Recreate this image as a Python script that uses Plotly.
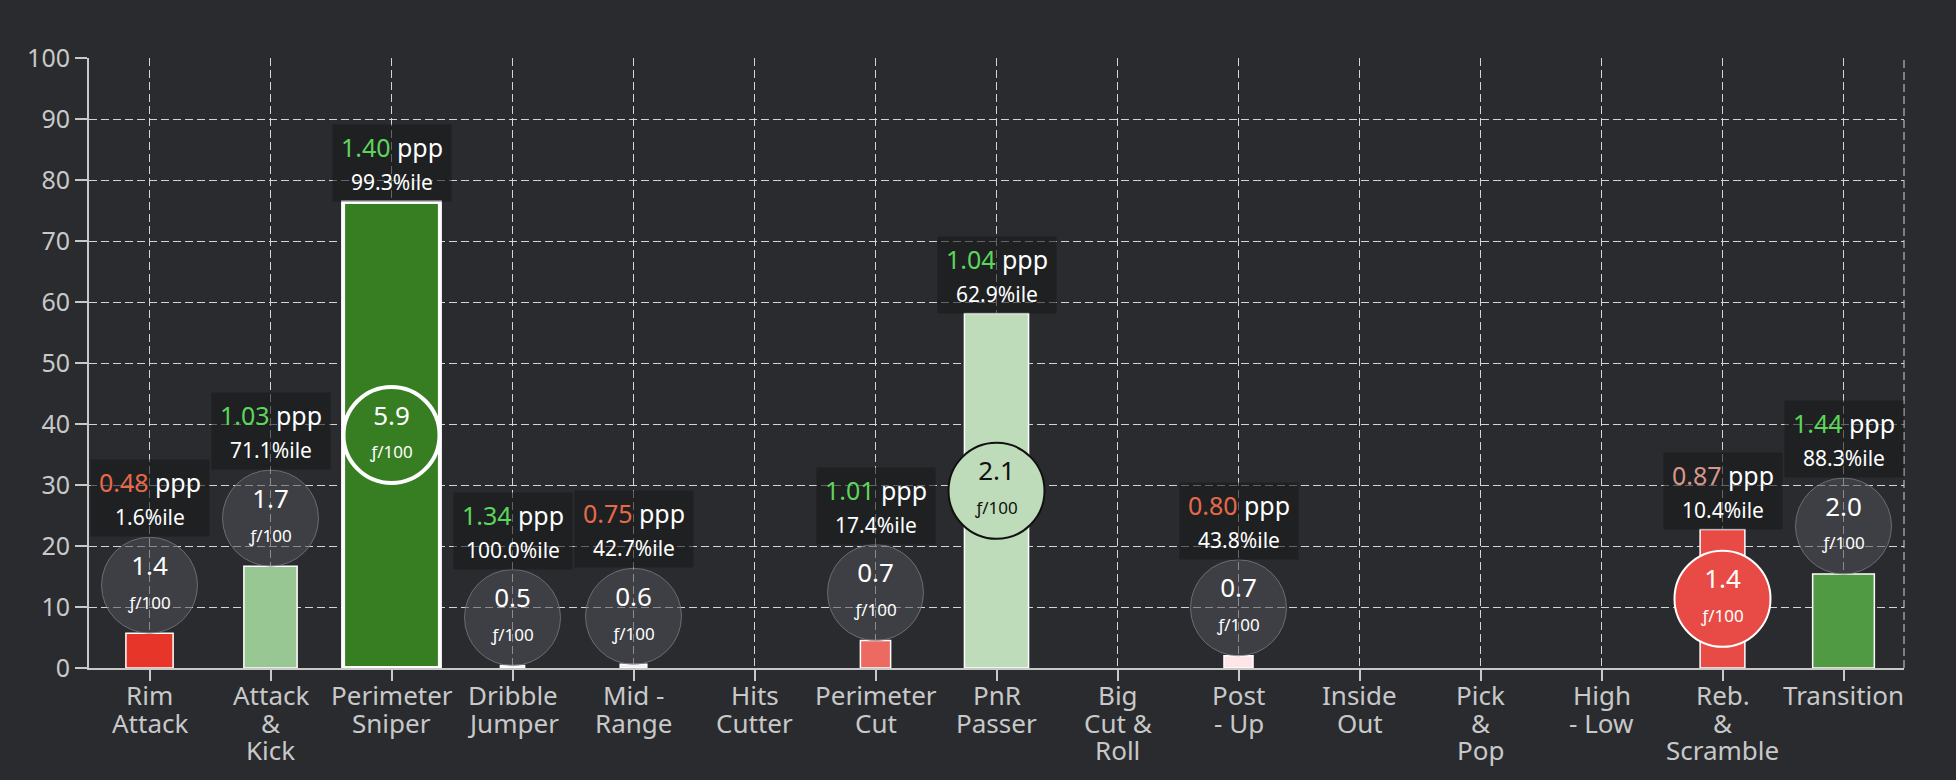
import plotly.graph_objects as go

# play types (tick labels) and values
play_types = [
    "Rim<br>Attack", "Attack<br>&<br>Kick", "Perimeter<br>Sniper", "Dribble<br>Jumper",
    "Mid -<br>Range", "Hits<br>Cutter", "Perimeter<br>Cut", "PnR<br>Passer",
    "Big<br>Cut &<br>Roll", "Post<br>- Up", "Inside<br>Out", "Pick<br>&<br>Pop",
    "High<br>- Low", "Reb.<br>&<br>Scramble", "Transition",
]
usage_pct = [5.7, 16.7, 76.4, 0.4, 0.6, None, 4.5, 58.1, None, 2.0, None, None, None, 22.7, 15.4]
freq_100 = [1.4, 1.7, 5.9, 0.5, 0.6, None, 0.7, 2.1, None, 0.7, None, None, None, 1.4, 2.0]
ppp = [0.48, 1.03, 1.40, 1.34, 0.75, None, 1.01, 1.04, None, 0.80, None, None, None, 0.87, 1.44]
ppp_pctile = [1.6, 71.1, 99.3, 100.0, 42.7, None, 17.4, 62.9, None, 43.8, None, None, None, 10.4, 88.3]
bar_width = [0.39, 0.44, 0.80, 0.20, 0.22, 0, 0.25, 0.53, 0, 0.24, 0, 0, 0, 0.37, 0.51]

bar_colors = ["#e83529", "#98c794", "#377e22", "#f8f8f8", "#f6f2f2", "#000000", "#ec6a62",
              "#bedcb9", "#000000", "#fde5e8", "#000000", "#000000", "#000000", "#e84b46", "#4f9a43"]
ppp_colors = ["#e8694a", "#5cd65a", "#5cd65a", "#5cd65a", "#e8694a", None, "#5cd65a",
              "#5cd65a", None, "#e8694a", None, None, None, "#d9958a", "#5cd65a"]
highlight = "Perimeter<br>Sniper"

W, H = 1956, 780
M = dict(l=89, r=52, t=58, b=112)
BG = "#292b2f"
GRID = "#d4d4d4"
TICK = "#c8c8c8"
FONT = "Noto Sans"

plot_h = H - M["t"] - M["b"]
circle_px = 96
r_units = (circle_px / 2) * 100 / plot_h

fig = go.Figure()

line_w = [4 if p == highlight else 1.5 for p in play_types]
fig.add_trace(go.Bar(
    x=play_types, y=usage_pct, width=bar_width,
    marker=dict(color=bar_colors, line=dict(color="white", width=line_w)),
    hoverinfo="skip", showlegend=False,
))

# frequency bubbles + ppp boxes
cx, cy, ctext, cfill, cline, clw, ctc = [], [], [], [], [], [], []
annotations = []
for i, p in enumerate(play_types):
    # category label, one line per annotation to keep the tight line spacing
    for j, part in enumerate(p.split("<br>")):
        annotations.append(dict(
            x=p, y=0, xref="x", yref="y", yanchor="middle", showarrow=False,
            yshift=-(27 + 27.5 * j), text=part,
            font=dict(size=26, color=TICK, family=FONT),
        ))

    if freq_100[i] is None:
        continue
    top = usage_pct[i]
    inside = top >= 20
    if inside:
        y_c = top / 2
        anchor = top
        cfill.append(bar_colors[i])
        if p == highlight:
            cline.append("white"); clw.append(4); ctc.append("white")
        elif bar_colors[i] == "#bedcb9":
            cline.append("#111111"); clw.append(2); ctc.append("#111111")
        else:
            cline.append("white"); clw.append(2); ctc.append("white")
    else:
        y_c = top + r_units
        anchor = top + 2 * r_units
        cfill.append("rgba(80,81,86,0.55)")
        cline.append("rgba(130,130,135,0.7)"); clw.append(1); ctc.append("white")
    cx.append(p)
    cy.append(y_c)
    ctext.append(f"{freq_100[i]:.1f}<br><span style='font-size:17px'>ƒ/100</span>")

    annotations.append(dict(
        x=p, y=anchor, xref="x", yref="y", yanchor="bottom", showarrow=False,
        text=(f"<span style='color:{ppp_colors[i]}'>{ppp[i]:.2f}</span> ppp<br>"
              f"<span style='font-size:21px'>{ppp_pctile[i]:.1f}%ile</span>"),
        font=dict(size=25, color="white", family=FONT),
        bgcolor="rgba(24,25,27,0.6)", width=112, height=70, borderpad=3,
    ))

fig.add_trace(go.Scatter(
    x=cx, y=cy, mode="markers+text", text=ctext, textposition="middle center",
    textfont=dict(size=26, color=ctc, family=FONT),
    marker=dict(size=circle_px, color=cfill, line=dict(color=cline, width=clw)),
    hoverinfo="skip", showlegend=False, cliponaxis=False,
))

fig.add_shape(type="line", xref="paper", yref="y", x0=1, x1=1, y0=0, y1=100,
              line=dict(color=GRID, width=1, dash="8px,4px"), layer="below")

fig.update_layout(
    width=W, height=H, margin=M,
    paper_bgcolor=BG, plot_bgcolor=BG,
    font=dict(family=FONT, color=TICK),
    annotations=annotations,
)
fig.update_xaxes(
    range=[-0.5, 14.5], showgrid=True, gridcolor=GRID, griddash="8px,4px", gridwidth=1,
    showline=True, linecolor=TICK, linewidth=2, ticks="outside", ticklen=11,
    tickcolor=TICK, tickwidth=2, showticklabels=False, fixedrange=True,
    automargin=False,
)
fig.update_yaxes(
    range=[0, 100], dtick=10, showgrid=True, gridcolor=GRID, griddash="8px,4px", gridwidth=1,
    showline=True, linecolor=TICK, linewidth=2, ticks="outside", ticklen=12,
    tickcolor=TICK, tickwidth=2, tickfont=dict(size=25, color=TICK), zeroline=False,
    fixedrange=True, automargin=False,
)

fig.write_html(
    "out.html",
    config={"displayModeBar": False},
    post_script="document.body.style.margin='0';document.body.style.backgroundColor='#292b2f';",
)
